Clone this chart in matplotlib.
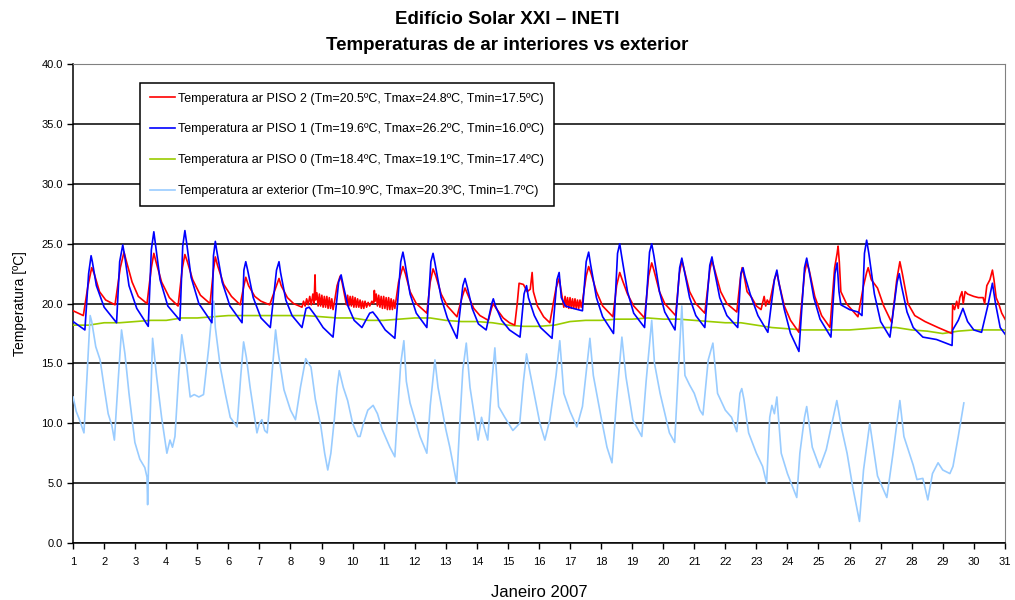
import matplotlib.pyplot as plt
from matplotlib.ticker import FormatStrFormatter

# ---- data (day of January 2007, temperature in ºC) ----
piso2_t = [1.00, 1.33, 1.48, 1.60, 1.68, 1.85, 2.05, 2.35,
           2.52, 2.64, 2.72, 2.90, 3.10, 3.38,
           3.52, 3.60, 3.68, 3.85, 4.10, 4.38,
           4.52, 4.60, 4.68, 4.85, 5.10, 5.41,
           5.52, 5.58, 5.65, 5.85, 6.10, 6.38,
           6.50, 6.56, 6.65, 6.85, 7.05, 7.33,
           7.55, 7.63, 7.70, 7.90, 8.10, 8.37,
           8.42, 8.47, 8.52, 8.57, 8.62, 8.67, 8.72, 8.76, 8.79, 8.81, 8.85, 8.89,
           8.93, 8.97, 9.01, 9.05, 9.09, 9.13, 9.17, 9.21, 9.25, 9.29, 9.33, 9.37,
           9.42, 9.50, 9.60, 9.66, 9.72, 9.76, 9.80, 9.84, 9.88, 9.92, 9.96, 10.00,
           10.04, 10.08, 10.12, 10.16, 10.20, 10.24, 10.28, 10.32, 10.36, 10.40,
           10.45, 10.50, 10.55, 10.62, 10.68, 10.70, 10.72, 10.76, 10.80, 10.84,
           10.88, 10.92, 10.96, 11.00, 11.04, 11.08, 11.12, 11.16, 11.20, 11.24,
           11.28, 11.32, 11.36,
           11.48, 11.62, 11.70, 11.85, 12.05, 12.39,
           12.50, 12.59, 12.68, 12.85, 13.05, 13.36,
           13.52, 13.62, 13.70, 13.90, 14.10, 14.37,
           14.47, 14.53, 14.62, 14.85, 15.05, 15.22,
           15.30, 15.36, 15.50, 15.62, 15.72, 15.78, 15.82, 15.95, 16.15, 16.35,
           16.55, 16.65, 16.72, 16.76, 16.80, 16.84, 16.88, 16.92, 16.96, 17.00,
           17.04, 17.08, 17.12, 17.16, 17.20, 17.24, 17.28, 17.32, 17.36, 17.40,
           17.52, 17.60, 17.68, 17.85, 18.05, 18.38,
           18.50, 18.60, 18.68, 18.85, 19.05, 19.40,
           19.53, 19.63, 19.70, 19.88, 20.05, 20.40,
           20.52, 20.60, 20.68, 20.85, 21.05, 21.34,
           21.50, 21.57, 21.65, 21.85, 22.05, 22.37,
           22.48, 22.54, 22.60, 22.70, 22.85, 23.00, 23.15, 23.25, 23.30, 23.35, 23.42,
           23.58, 23.66, 23.72, 23.90, 24.10, 24.37,
           24.55, 24.62, 24.70, 24.88, 25.10, 25.37,
           25.52, 25.60, 25.63, 25.67, 25.72, 25.90, 26.10, 26.27,
           26.45, 26.55, 26.60, 26.70, 26.90, 27.10, 27.36,
           27.52, 27.62, 27.70, 27.88, 28.10, 28.43, 28.85, 29.30,
           29.32, 29.38, 29.45, 29.50, 29.55, 29.62, 29.66, 29.72, 29.80, 30.00,
           30.15, 30.30, 30.35, 30.42, 30.52, 30.60, 30.65, 30.72, 30.80, 30.90, 31.05]
piso2_v = [19.4, 19.0, 21.5, 23.0, 22.5, 21.0, 20.3, 19.9,
           23.0, 24.3, 23.5, 21.8, 20.6, 20.0,
           23.0, 24.2, 23.4, 21.8, 20.5, 19.8,
           23.0, 24.1, 23.5, 22.0, 20.7, 20.0,
           22.8, 23.9, 23.2, 21.6, 20.6, 19.9,
           21.5, 22.2, 21.5, 20.6, 20.2, 19.9,
           21.5, 22.1, 21.5, 20.5, 20.0, 19.7,
           20.2, 19.8, 20.4, 19.9, 20.6, 19.9, 20.8, 20.0, 22.4, 20.3, 20.9, 19.8,
           20.8, 19.8, 20.7, 19.7, 20.6, 19.7, 20.6, 19.6, 20.5, 19.6, 20.4, 19.5,
           20.2, 21.5, 22.3, 21.8, 21.0, 20.5, 19.9, 20.7, 19.8, 20.6, 19.8, 20.6,
           19.7, 20.5, 19.7, 20.4, 19.7, 20.3, 19.6, 20.2, 19.6, 20.2,
           19.7, 20.1, 19.8, 20.2, 20.0, 21.1, 20.2, 20.8, 19.8, 20.7,
           19.7, 20.6, 19.6, 20.6, 19.6, 20.5, 19.5, 20.5, 19.5, 20.4,
           19.5, 20.3, 19.6,
           21.8, 23.1, 22.5, 21.0, 20.0, 19.2,
           21.8, 22.9, 22.3, 20.8, 19.8, 18.9,
           20.5, 21.3, 20.8, 19.6, 19.0, 18.6,
           19.6, 20.0, 19.6, 18.8, 18.4, 18.2,
           20.0, 21.7, 21.6, 21.0, 21.2, 22.6, 21.0, 19.8, 18.9, 18.4,
           21.3, 22.1, 21.0, 20.4, 19.7, 20.6, 19.7, 20.5, 19.6, 20.5,
           19.6, 20.4, 19.6, 20.4, 19.6, 20.3, 19.6, 20.3, 19.7, 20.2,
           22.3, 23.1, 22.5, 21.0, 19.8, 18.9,
           21.5, 22.6, 22.0, 20.8, 19.8, 18.8,
           22.3, 23.4, 22.8, 21.0, 20.0, 19.0,
           22.5, 23.6, 22.8, 21.0, 20.0, 19.2,
           22.8, 23.6, 22.9, 21.0, 20.0, 19.3,
           22.0, 23.0, 22.4, 21.0, 20.5, 19.8, 19.5, 20.6, 19.8, 20.3, 20.0,
           22.0, 22.6, 21.8, 19.8, 18.6, 17.6,
           22.5, 23.4, 22.8, 20.6, 19.0, 18.0,
           23.0, 24.2, 24.8, 23.5, 21.0, 20.0, 19.4, 18.9,
           21.5, 22.6, 23.0, 22.0, 21.3, 19.8, 18.4,
           22.0, 23.5, 22.5, 20.0, 19.0, 18.5, 18.0, 17.5,
           19.9, 19.5, 20.2, 19.6, 20.5, 21.0, 20.0, 21.0, 20.8, 20.6,
           20.5, 20.5, 20.0, 21.5, 22.0, 22.8, 22.0, 20.5, 20.0, 19.2, 18.5]

piso1_t = [1.00, 1.38, 1.50, 1.58, 1.62, 1.75, 2.00, 2.40,
           2.50, 2.60, 2.66, 2.80, 3.05, 3.42,
           3.52, 3.60, 3.66, 3.80, 4.05, 4.44,
           4.53, 4.60, 4.66, 4.80, 5.05, 5.47,
           5.52, 5.58, 5.62, 5.80, 6.05, 6.44,
           6.50, 6.56, 6.62, 6.80, 7.05, 7.35,
           7.55, 7.63, 7.68, 7.85, 8.05, 8.37,
           8.50, 8.60, 8.80, 9.05, 9.37,
           9.55, 9.63, 9.70, 9.85, 10.05, 10.30,
           10.55, 10.65, 10.80, 11.05, 11.36,
           11.55, 11.62, 11.68, 11.85, 12.05, 12.39,
           12.52, 12.59, 12.65, 12.85, 13.05, 13.36,
           13.55, 13.62, 13.70, 13.85, 14.05, 14.30,
           14.48, 14.53, 14.60, 14.80, 15.05, 15.39,
           15.52, 15.60, 15.66, 15.85, 16.05, 16.42,
           16.58, 16.65, 16.72, 16.85, 17.10, 17.40,
           17.52, 17.60, 17.66, 17.85, 18.05, 18.40,
           18.53, 18.60, 18.66, 18.85, 19.05, 19.40,
           19.56, 19.63, 19.70, 19.88, 20.05, 20.38,
           20.53, 20.60, 20.66, 20.85, 21.05, 21.34,
           21.50, 21.57, 21.63, 21.82, 22.05, 22.40,
           22.50, 22.57, 22.63, 22.80, 23.05, 23.37,
           23.58, 23.66, 23.72, 23.90, 24.10, 24.37,
           24.55, 24.62, 24.68, 24.85, 25.05, 25.40,
           25.53, 25.60, 25.66, 25.72, 26.00, 26.27, 26.40,
           26.48, 26.55, 26.62, 26.80, 27.00, 27.30,
           27.53, 27.60, 27.67, 27.85, 28.05, 28.36, 28.80, 29.30,
           29.32, 29.50, 29.65, 29.80, 30.00, 30.25,
           30.45, 30.60, 30.70, 30.85, 31.05]
piso1_v = [18.5, 17.8, 22.5, 24.0, 23.5, 21.5, 19.7, 18.4,
           23.5, 24.9, 24.0, 21.5, 19.6, 18.1,
           24.5, 26.0, 24.8, 22.0, 19.8, 18.6,
           24.8, 26.1, 25.0, 22.2, 20.0, 18.4,
           24.0, 25.2, 24.5, 21.8, 19.8, 18.4,
           22.8, 23.5, 22.8, 20.5, 18.8, 18.0,
           22.8, 23.5, 22.6, 20.3, 19.0, 18.0,
           19.6, 19.7, 19.0, 18.0, 17.2,
           21.8, 22.4, 21.5, 19.8, 18.6, 18.0,
           19.2, 19.3, 18.8, 17.8, 17.1,
           23.5, 24.3, 23.5, 20.8, 19.2, 18.0,
           23.5, 24.2, 23.4, 20.5, 18.8, 17.1,
           21.5, 22.1, 21.3, 19.6, 18.3, 17.8,
           20.0, 20.4, 19.8, 18.6, 17.8, 17.2,
           20.8, 21.5, 20.5, 19.0, 18.0, 17.1,
           22.0, 22.6, 20.5, 19.8, 19.6, 19.4,
           23.5, 24.3, 23.3, 20.5, 18.9, 17.5,
           24.2, 25.0, 24.0, 21.0, 19.2, 18.0,
           24.3, 25.0, 24.0, 21.0, 19.3, 17.8,
           23.0, 23.8, 23.0, 20.5, 19.0, 18.0,
           23.2, 23.9, 23.0, 20.5, 19.0, 18.0,
           22.5, 23.0, 22.3, 20.8, 19.0, 17.6,
           22.0, 22.8, 21.8, 19.5, 17.5, 16.0,
           23.0, 23.8, 23.0, 20.5, 18.7, 17.2,
           22.5, 23.4, 21.0, 19.9, 19.5, 19.3, 19.0,
           24.2, 25.3, 24.2, 20.8, 18.5, 17.2,
           21.8, 22.5, 21.5, 19.3, 18.0, 17.2, 17.0, 16.5,
           17.8, 18.6, 19.6, 18.5, 17.8, 17.6,
           19.8, 21.7, 20.0, 18.0, 17.3]

piso0_t = [1.0, 1.5, 2.0, 2.5, 3.0, 3.5, 4.0, 4.5, 5.0, 5.5, 6.0, 6.5, 7.0, 7.5,
           8.0, 8.5, 9.0, 9.5, 10.0, 10.5, 11.0, 11.5, 12.0, 12.5, 13.0, 13.5,
           14.0, 14.5, 15.0, 15.5, 16.0, 16.5, 17.0, 17.5, 18.0, 18.5, 19.0,
           19.5, 20.0, 20.5, 21.0, 21.5, 22.0, 22.5, 23.0, 23.5, 24.0, 24.5,
           25.0, 25.5, 26.0, 26.5, 27.0, 27.5, 28.0, 28.5, 29.0, 29.5, 30.0,
           30.5, 31.0]
piso0_v = [18.2, 18.2, 18.4, 18.4, 18.5, 18.6, 18.6, 18.8, 18.8, 18.9, 19.0,
           19.0, 19.0, 19.0, 19.0, 19.0, 18.9, 18.8, 18.8, 18.6, 18.6, 18.7,
           18.8, 18.8, 18.6, 18.5, 18.5, 18.4, 18.2, 18.1, 18.1, 18.2, 18.5,
           18.6, 18.6, 18.7, 18.7, 18.8, 18.7, 18.7, 18.6, 18.5, 18.4, 18.4,
           18.2, 18.0, 17.9, 17.8, 17.8, 17.8, 17.8, 17.9, 18.0, 18.0, 17.8,
           17.7, 17.5, 17.7, 17.8, 17.8, 17.8]

ext_t = [1.00, 1.10, 1.22, 1.35, 1.45, 1.55, 1.60, 1.73, 1.87, 2.00, 2.13, 2.25,
         2.33, 2.45, 2.56, 2.67, 2.80, 2.99, 3.15, 3.31, 3.38, 3.40, 3.43, 3.50,
         3.56, 3.69, 3.85, 4.02, 4.12, 4.20, 4.28, 4.40, 4.50, 4.58, 4.66, 4.77,
         4.90, 5.05, 5.20, 5.37, 5.48, 5.53, 5.58, 5.74, 5.90, 6.06, 6.28, 6.40,
         6.49, 6.58, 6.70, 6.92, 7.00, 7.08, 7.17, 7.25, 7.40, 7.52, 7.60, 7.79,
         8.00, 8.16, 8.32, 8.49, 8.58, 8.66, 8.80, 8.98, 9.10, 9.20, 9.30, 9.41,
         9.50, 9.57, 9.70, 9.84, 10.00, 10.17, 10.24, 10.35, 10.49, 10.66, 10.80,
         10.95, 11.20, 11.36, 11.45, 11.55, 11.65, 11.73, 11.85, 12.17, 12.39,
         12.50, 12.65, 12.75, 13.00, 13.13, 13.35, 13.45, 13.55, 13.66, 13.78,
         14.04, 14.15, 14.25, 14.35, 14.47, 14.58, 14.70, 14.90, 15.16, 15.38,
         15.50, 15.60, 15.70, 16.03, 16.19, 16.35, 16.55, 16.67, 16.80, 17.00,
         17.22, 17.40, 17.55, 17.64, 17.75, 18.00, 18.19, 18.35, 18.50, 18.67,
         18.80, 19.02, 19.31, 19.45, 19.63, 19.72, 19.90, 20.20, 20.37, 20.48,
         20.60, 20.70, 20.85, 21.00, 21.18, 21.28, 21.45, 21.60, 21.75, 22.00,
         22.20, 22.37, 22.47, 22.53, 22.60, 22.75, 23.00, 23.20, 23.33, 23.43,
         23.50, 23.58, 23.66, 23.80, 24.00, 24.30, 24.40, 24.55, 24.62, 24.80,
         25.04, 25.25, 25.59, 25.75, 25.92, 26.10, 26.32, 26.45, 26.65, 26.90,
         27.20, 27.40, 27.62, 27.75, 28.05, 28.17, 28.36, 28.52, 28.67, 28.85,
         29.00, 29.23, 29.33, 29.50, 29.68]
ext_v = [12.2, 11.0, 10.2, 9.2, 14.0, 19.0, 18.5, 16.4, 15.3, 13.0, 10.8, 9.8,
         8.6, 13.5, 17.8, 15.8, 12.5, 8.4, 7.0, 6.3, 5.5, 3.2, 6.5, 12.0,
         17.1, 13.9, 10.5, 7.5, 8.6, 8.0, 8.9, 14.0, 17.4, 16.0, 14.7, 12.2,
         12.4, 12.2, 12.4, 16.4, 19.5, 20.2, 18.0, 14.7, 12.5, 10.5, 9.7, 14.0,
         16.8, 15.5, 13.0, 9.2, 10.0, 10.3, 9.4, 9.2, 14.0, 17.8, 16.0, 12.8,
         11.1, 10.3, 13.0, 15.4, 15.0, 14.7, 12.0, 9.7, 7.5, 6.1, 7.5, 10.3,
         13.0, 14.4, 13.0, 11.9, 10.0, 8.9, 8.9, 10.0, 11.1, 11.5, 10.8,
         9.5, 8.0, 7.2, 11.0, 15.0, 16.9, 13.5, 11.7, 8.9, 7.5,
         11.5, 15.3, 13.0, 9.5, 8.0, 5.0, 10.0, 14.5, 16.7, 13.0,
         8.6, 10.5, 9.5, 8.6, 13.0, 16.3, 11.4, 10.5, 9.4, 10.0,
         13.5, 15.8, 14.4, 10.0, 8.6, 10.3, 14.0, 16.9, 12.5, 11.0,
         9.7, 11.4, 15.0, 17.1, 14.0, 10.5, 8.0, 6.7, 12.0, 17.2,
         13.9, 10.3, 8.9, 13.5, 18.6, 15.0, 12.5, 9.2, 8.4, 14.0,
         19.8, 14.0, 13.2, 12.5, 11.1, 10.7, 15.3, 16.7, 12.5, 11.1,
         10.5, 9.3, 12.5, 12.9, 12.0, 9.2, 7.5, 6.4, 5.0, 10.5,
         11.5, 10.8, 12.2, 7.5, 5.8, 3.8, 7.5, 10.5, 11.4, 8.0,
         6.3, 7.8, 11.9, 9.5, 7.5, 4.7, 1.8, 6.1, 10.0, 5.6,
         3.8, 7.5, 11.9, 8.9, 6.5, 5.3, 5.4, 3.6, 5.8, 6.7,
         6.1, 5.8, 6.4, 8.9, 11.7]

labels = ["Temperatura ar PISO 2 (Tm=20.5ºC, Tmax=24.8ºC, Tmin=17.5ºC)",
          "Temperatura ar PISO 1 (Tm=19.6ºC, Tmax=26.2ºC, Tmin=16.0ºC)",
          "Temperatura ar PISO 0 (Tm=18.4ºC, Tmax=19.1ºC, Tmin=17.4ºC)",
          "Temperatura ar exterior (Tm=10.9ºC, Tmax=20.3ºC, Tmin=1.7ºC)"]
days = list(range(1, 32))

plt.rcParams['font.family'] = ['Liberation Sans', 'DejaVu Sans']

fig = plt.figure(figsize=(10.15, 6.0), dpi=100)
ax = fig.add_axes([0.072, 0.095, 0.918, 0.798])

ax.plot(piso2_t, piso2_v, color="#ff0000", lw=1.2, label=labels[0], zorder=4)
ax.plot(piso1_t, piso1_v, color="#0000ff", lw=1.2, label=labels[1], zorder=5)
ax.plot(piso0_t, piso0_v, color="#99cc00", lw=1.2, label=labels[2], zorder=3)
ax.plot(ext_t, ext_v, color="#99ccff", lw=1.2, label=labels[3], zorder=3)

ax.set_xlim(1, 31)
ax.set_ylim(0, 40)
ax.set_xticks(days)
ax.set_yticks(range(0, 41, 5))
ax.yaxis.set_major_formatter(FormatStrFormatter("%.1f"))
ax.tick_params(axis="both", labelsize=8, length=4, width=1, direction="out")
ax.tick_params(axis="x", pad=6)
ax.grid(axis="y", color="black", lw=1.1)
ax.set_axisbelow(True)
for s in ["top", "right"]:
    ax.spines[s].set_color("#808080")
for s in ["left", "bottom"]:
    ax.spines[s].set_linewidth(1.1)

ax.set_xlabel("Janeiro 2007", fontsize=12, labelpad=13)
ax.set_ylabel("Temperatura [ºC]", fontsize=10, labelpad=10)
fig.text(0.5, 0.968, "Edifício Solar XXI – INETI", ha="center", va="center",
         fontsize=13.5, fontweight="bold")
fig.text(0.5, 0.924, "Temperaturas de ar interiores vs exterior", ha="center", va="center",
         fontsize=13.5, fontweight="bold")

leg = ax.legend(loc="upper left", bbox_to_anchor=(0.072, 0.960), fontsize=9,
                frameon=True, fancybox=False, framealpha=1, edgecolor="black",
                handlelength=2.0, handletextpad=0.3, labelspacing=1.5,
                borderpad=0.75, borderaxespad=0)
leg.get_frame().set_linewidth(1.1)
leg.set_zorder(10)

fig.savefig("out.png", dpi=100)
